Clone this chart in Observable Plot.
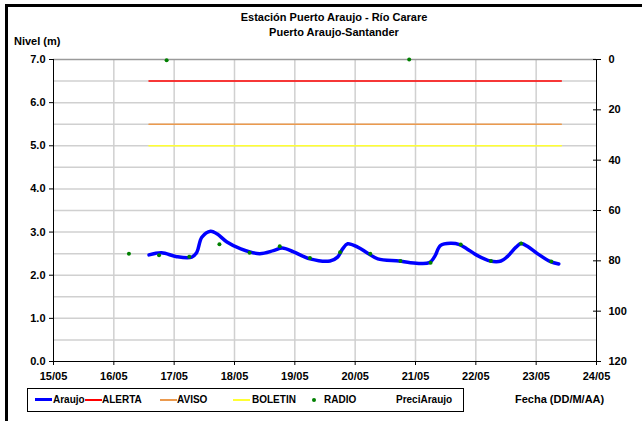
<!DOCTYPE html>
<html>
<head>
<meta charset="utf-8">
<script src="https://cdn.jsdelivr.net/npm/d3@7"></script>
<script src="https://cdn.jsdelivr.net/npm/@observablehq/plot@0.6"></script>
<style>
  body { margin: 0; background: #fff; }
  #wrap { position: relative; width: 642px; height: 421px; overflow: hidden; font-family: "Liberation Sans", Arial, sans-serif; font-weight: bold; color: #000; }
  #wrap svg { position: absolute; left: 0; top: 0; }
  .abs { position: absolute; white-space: nowrap; }
  .t { font-size: 11px; }
  #frameTop { position: absolute; left: 5px; top: 4px; width: 637px; height: 3px; background: #000; }
  #frameLeft { position: absolute; left: 5px; top: 4px; width: 3px; height: 417px; background: #000; }
  #legend { position: absolute; left: 27px; top: 388px; width: 435px; height: 22px; border: 1px solid #000; background: #fff; font-size: 10px; }
  #legend .it { position: absolute; top: 5px; }
  #legend .sw { position: absolute; top: 10px; height: 2px; width: 17px; }
</style>
</head>
<body>
<div id="wrap">
  <div id="frameTop"></div>
  <div id="frameLeft"></div>
</div>
<script>
// ---- data ----
const araujoTime = [
  "2011-05-16T14:00","2011-05-16T19:00","2011-05-17T01:00","2011-05-17T07:00","2011-05-17T09:00",
  "2011-05-17T11:00","2011-05-17T14:30","2011-05-17T17:00","2011-05-17T21:00","2011-05-18T02:30",
  "2011-05-18T10:00","2011-05-18T15:30","2011-05-18T19:00","2011-05-18T23:30","2011-05-19T06:00",
  "2011-05-19T14:00","2011-05-19T17:00","2011-05-19T19:00","2011-05-19T21:00","2011-05-20T01:00",
  "2011-05-20T05:00","2011-05-20T09:00","2011-05-20T17:30","2011-05-20T22:00","2011-05-21T05:30",
  "2011-05-21T07:30","2011-05-21T10:00","2011-05-21T14:00","2011-05-21T17:30","2011-05-21T20:30",
  "2011-05-22T00:30","2011-05-22T05:45","2011-05-22T10:00","2011-05-22T12:30","2011-05-22T16:00",
  "2011-05-22T18:00","2011-05-22T20:30","2011-05-23T00:30","2011-05-23T05:30","2011-05-23T09:00"
];
const araujoNivel = [
  2.47, 2.52, 2.43, 2.42, 2.53,
  2.88, 3.02, 2.96, 2.77, 2.61,
  2.50, 2.57, 2.63, 2.54, 2.38,
  2.33, 2.42, 2.61, 2.73, 2.65,
  2.51, 2.38, 2.33, 2.29, 2.29,
  2.42, 2.69, 2.74, 2.71, 2.61,
  2.46, 2.33, 2.33, 2.43, 2.65,
  2.735, 2.67, 2.50, 2.32, 2.26
];
const radioTime = [
  "2011-05-16T06:00","2011-05-16T18:00","2011-05-16T21:00","2011-05-17T06:00","2011-05-17T18:00",
  "2011-05-18T06:00","2011-05-18T18:00","2011-05-19T06:00","2011-05-19T18:00","2011-05-20T06:00",
  "2011-05-20T18:00","2011-05-20T21:30","2011-05-21T06:00","2011-05-21T18:00","2011-05-22T06:00",
  "2011-05-22T18:00","2011-05-23T06:00"
];
const radioNivel = [
  2.50, 2.46, 6.98, 2.43, 2.72,
  2.52, 2.67, 2.40, 2.53, 2.50,
  2.33, 7.0, 2.29, 2.71, 2.33,
  2.735, 2.32
];
const thresholdNames = ["ALERTA", "AVISO", "BOLETIN"];
const thresholdValues = [6.5, 5.5, 5.0];
const thresholdColors = ["#ff0000", "#eb9a4e", "#ffff33"];
const thresholdSpan = ["2011-05-16T14:00", "2011-05-23T10:00"];
const dayTicks = ["2011-05-15","2011-05-16","2011-05-17","2011-05-18","2011-05-19",
                  "2011-05-20","2011-05-21","2011-05-22","2011-05-23","2011-05-24"];
const nivelTicks = [0, 1, 2, 3, 4, 5, 6, 7];
const nivelGrid = [0.5, 1, 1.5, 2, 2.5, 3, 3.5, 4, 4.5, 5, 5.5, 6, 6.5];
const precipTicks = [0, 20, 40, 60, 80, 100, 120];
const precipMax = 120;
const nivelMax = 7;
const precipAraujo = []; // no precipitation values shown

// ---- build ----
const T = s => new Date(s + (s.length === 10 ? "T00:00Z" : "Z"));
const days = dayTicks.map(T);
const araujo = araujoTime.map((t, i) => ({t: T(t), v: araujoNivel[i]}));
const radio = radioTime.map((t, i) => ({t: T(t), v: radioNivel[i]}));
const thresholds = thresholdNames.flatMap((n, i) =>
  thresholdSpan.map(t => ({name: n, t: T(t), v: thresholdValues[i], c: thresholdColors[i]})));
const p2y = p => nivelMax - p / precipMax * nivelMax;
const precipY = precipTicks.map(p2y);

const chart = Plot.plot({
  width: 642,
  height: 421,
  marginLeft: 53,
  marginRight: 46,
  marginTop: 59,
  marginBottom: 60,
  style: {fontFamily: "'Liberation Sans', Arial, sans-serif", fontSize: "11px", fontWeight: "bold", background: "transparent", overflow: "visible"},
  x: {type: "utc", domain: [days[0], days[days.length - 1]]},
  y: {domain: [0, nivelMax]},
  marks: [
    Plot.ruleY(nivelGrid, {stroke: "#d0d0d0", strokeWidth: 1.5}),
    Plot.ruleX(days.slice(1, -1), {stroke: "#d0d0d0", strokeWidth: 1.5}),
    Plot.ruleY([nivelMax], {stroke: "#9a9a9a", strokeWidth: 1.5}),
    Plot.line(thresholds, {x: "t", y: "v", z: "name", stroke: "c", strokeWidth: 1.5}),
    Plot.line(araujo, {x: "t", y: "v", stroke: "#0000ff", strokeWidth: 3.5, curve: "catmull-rom"}),
    Plot.dot(radio, {x: "t", y: "v", r: 2, fill: "#008000", stroke: null}),
    Plot.ruleX([days[0]], {stroke: "#000", strokeWidth: 1}),
    Plot.ruleX([days[days.length - 1]], {stroke: "#000", strokeWidth: 1}),
    Plot.ruleY([0], {stroke: "#000", strokeWidth: 1}),
    Plot.axisY(nivelTicks, {anchor: "left", tickSize: 4, tickPadding: 4, tickFormat: d3.format(".1f"), label: null}),
    Plot.axisX(days, {anchor: "bottom", tickSize: 4, tickPadding: 7, tickFormat: d3.utcFormat("%d/%m"), label: null}),
    Plot.axisY(precipY, {anchor: "right", tickSize: 8, dx: -4, tickFormat: () => "", label: null}),
    Plot.axisY(precipY, {anchor: "right", tickSize: 0, tickPadding: 12, tickFormat: v => String(Math.round((nivelMax - v) / nivelMax * precipMax)), label: null})
  ]
});

const wrap = document.getElementById("wrap");
wrap.insertBefore(chart, wrap.firstChild);

function addText(txt, css) {
  const d = document.createElement("div");
  d.className = "abs t";
  d.textContent = txt;
  Object.assign(d.style, css);
  wrap.appendChild(d);
  return d;
}
addText("Estación Puerto Araujo - Río Carare", {left: "334px", top: "11px", transform: "translateX(-50%)"});
addText("Puerto Araujo-Santander", {left: "334px", top: "26px", transform: "translateX(-50%)"});
addText("Nivel (m)", {left: "14px", top: "35px"});
addText("Fecha (DD/M/AA)", {left: "515px", top: "393px"});

// legend
const legend = document.createElement("div");
legend.id = "legend";
wrap.appendChild(legend);
const items = [
  {name: "Araujo", color: "#0000ff", type: "line", h: 3, x: 7, tx: 25},
  {name: thresholdNames[0], color: thresholdColors[0], type: "line", h: 2, x: 57, tx: 74},
  {name: thresholdNames[1], color: thresholdColors[1], type: "line", h: 2, x: 132, tx: 149},
  {name: thresholdNames[2], color: thresholdColors[2], type: "line", h: 2, x: 205, tx: 224},
  {name: "RADIO", color: "#008000", type: "dot", x: 284, tx: 296},
  {name: "PreciAraujo", type: "none", tx: 368}
];
for (const it of items) {
  if (it.type === "line") {
    const s = document.createElement("div");
    s.className = "sw";
    s.style.left = it.x + "px";
    s.style.height = it.h + "px";
    s.style.top = (it.h === 3 ? 9 : 10) + "px";
    s.style.background = it.color;
    legend.appendChild(s);
  } else if (it.type === "dot") {
    const s = document.createElement("div");
    Object.assign(s.style, {position: "absolute", left: it.x + "px", top: "9px", width: "4px", height: "4px", borderRadius: "50%", background: it.color});
    legend.appendChild(s);
  }
  const t = document.createElement("div");
  t.className = "it";
  t.style.left = it.tx + "px";
  t.textContent = it.name;
  legend.appendChild(t);
}
</script>
</body>
</html>
